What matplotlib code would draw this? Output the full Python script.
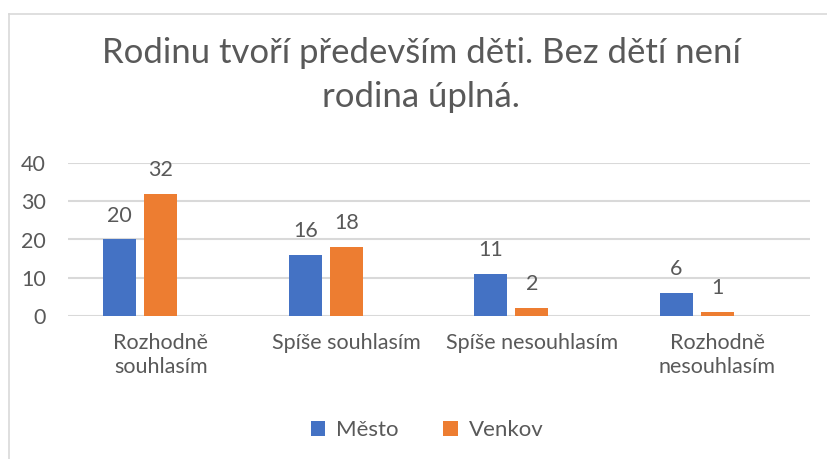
import numpy as np
import matplotlib.pyplot as plt
from matplotlib.lines import Line2D

# ──────────────────────────────────────────────
# data
# ──────────────────────────────────────────────
categories = ["Rozhodně\nsouhlasím", "Spíše souhlasím", "Spíše nesouhlasím", "Rozhodně\nnesouhlasím"]
mesto = [20, 16, 11, 6]
venkov = [32, 18, 2, 1]
series_names = ["Město", "Venkov"]
y_ticks = [0, 10, 20, 30, 40]

title = "Rodinu tvoří především děti. Bez dětí není\nrodina úplná."

# ──────────────────────────────────────────────
# style
# ──────────────────────────────────────────────
blue = "#4472C4"
orange = "#ED7D31"
text_col = "#595959"
grid_col = "#D9D9D9"
plt.rcParams["font.family"] = ["Lato", "DejaVu Sans"]

fig = plt.figure(figsize=(8.27, 4.59), dpi=100)
ax = fig.add_axes([68 / 827, 1 - 316 / 459, (810 - 68) / 827, (316 - 163) / 459])

x = np.arange(len(categories))
width = 0.178
step = 0.221

b1 = ax.bar(x - step, mesto, width, color=blue, label=series_names[0])
b2 = ax.bar(x, venkov, width, color=orange, label=series_names[1])

for bars in (b1, b2):
    for rect in bars:
        ax.annotate(f"{rect.get_height():g}",
                    (rect.get_x() + rect.get_width() / 2, rect.get_height()),
                    xytext=(0, 10), textcoords="offset points",
                    ha="center", va="bottom", fontsize=15.5, color=text_col)

ax.set_xlim(-0.5, len(categories) - 0.5)
ax.set_ylim(0, 40)
ax.set_yticks(y_ticks)
ax.set_xticks(x)
ax.set_xticklabels(categories, linespacing=1.3)
ax.tick_params(axis="both", length=0, labelsize=15.5, labelcolor=text_col)
ax.tick_params(axis="y", pad=16)
ax.tick_params(axis="x", pad=12)
for s in ax.spines.values():
    s.set_visible(False)
ax.grid(axis="y", color=grid_col, lw=1.5)
ax.set_axisbelow(True)

fig.text(0.509, 0.836, title, ha="center", va="center", fontsize=25,
         color=text_col, linespacing=1.45)

ax.legend(loc="center", bbox_to_anchor=(427 / 827, 1 - 430 / 459),
          bbox_transform=fig.transFigure, ncol=2, frameon=False,
          fontsize=16, labelcolor=text_col, handlelength=0.65,
          handleheight=0.65, columnspacing=2.0, handletextpad=0.5)

# chart border (top + left, cropped)
fig.add_artist(Line2D([8.5 / 827, 8.5 / 827], [0, 1 - 13.5 / 459],
                      color=grid_col, lw=1.2, transform=fig.transFigure))
fig.add_artist(Line2D([8.5 / 827, 1], [1 - 13.5 / 459, 1 - 13.5 / 459],
                      color=grid_col, lw=1.2, transform=fig.transFigure))

fig.savefig("out.png", dpi=100, facecolor="white")
